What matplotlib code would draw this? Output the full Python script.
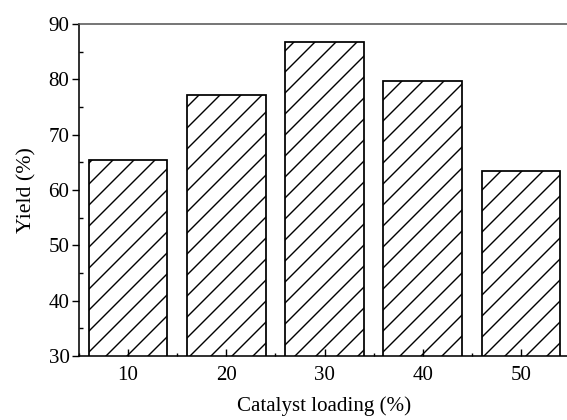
import matplotlib
matplotlib.use('Agg')
import matplotlib.pyplot as plt
from matplotlib.ticker import MultipleLocator

# catalyst loading (%) and yield (%)
loading = [10, 20, 30, 40, 50]
yields = [65.5, 77.2, 86.8, 79.7, 63.5]

plt.rcParams['font.family'] = ['Liberation Serif', 'DejaVu Serif']
plt.rcParams['hatch.linewidth'] = 0.8

fig = plt.figure(figsize=(4.5, 420 / 126), dpi=126)
ax = fig.add_axes([79 / 567, 1 - 356 / 420, 491 / 567, 332 / 420])

ax.bar(loading, yields, width=8, bottom=0, color='white', edgecolor='black',
       linewidth=1.0, hatch='//')

ax.set_xlim(5, 55)
ax.set_ylim(30, 90)
ax.xaxis.set_major_locator(MultipleLocator(10))
ax.xaxis.set_minor_locator(MultipleLocator(5))
ax.yaxis.set_major_locator(MultipleLocator(10))
ax.yaxis.set_minor_locator(MultipleLocator(5))

ax.tick_params(axis='x', which='major', direction='in', length=4, width=0.8, pad=6, labelsize=12)
ax.tick_params(axis='x', which='minor', direction='in', length=2, width=0.8)
ax.tick_params(axis='y', which='major', direction='out', length=4, width=0.8, pad=1.5, labelsize=12)
ax.tick_params(axis='y', which='minor', direction='in', length=2.5, width=0.8)

ax.spines['right'].set_visible(False)
for s in ['left', 'bottom', 'top']:
    ax.spines[s].set_linewidth(0.9)
ax.spines['top'].set_color('#555555')

ax.set_xlabel('Catalyst loading (%)', fontsize=12, labelpad=6)
ax.set_ylabel('Yield (%)', fontsize=12.5, labelpad=7)

fig.savefig('out.png', dpi=126)
